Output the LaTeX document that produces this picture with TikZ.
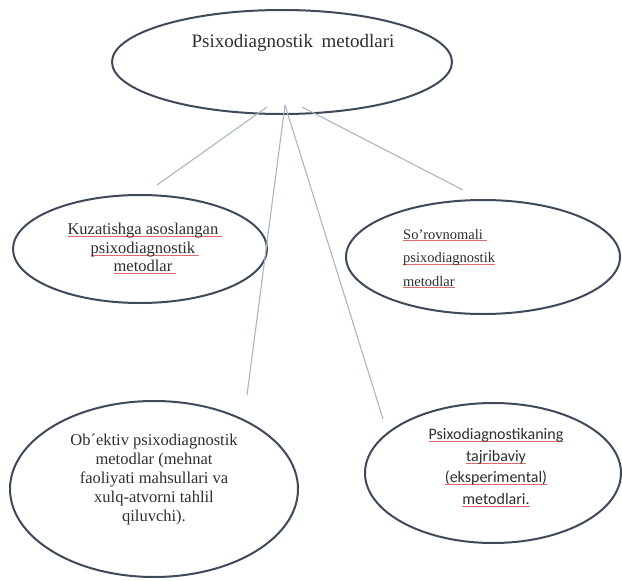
\documentclass[tikz,border=0pt]{standalone}
\usepackage{fontspec}
\setmainfont{Liberation Serif}
\newfontfamily\calibfont{Carlito}
\usetikzlibrary{shapes.geometric}
\definecolor{ellcol}{HTML}{3E4A5A}
\definecolor{conncol}{HTML}{A8B7C7}
\definecolor{txtcol}{HTML}{2E2E2E}
\definecolor{spellcol}{HTML}{E06A6A}
\newsavebox{\spellbox}
\newcommand\spellul[1]{\sbox{\spellbox}{#1}\rlap{\textcolor{spellcol}{\rule[-0.3ex]{\wd\spellbox}{0.7pt}}}\usebox{\spellbox}}
\begin{document}
\begin{tikzpicture}[x=1pt,y=-1pt,
  ell/.style={draw=ellcol, line width=2pt, ellipse, inner sep=0pt},
  conn/.style={draw=conncol, line width=1.1pt},
  lbl/.style={text=txtcol, inner sep=0pt}]
\useasboundingbox (0,0) rectangle (622,581);
% ellipses
\node[ell, minimum width=340pt, minimum height=104pt] (top) at (282,62) {};
\node[ell, minimum width=254pt, minimum height=108pt] (left) at (140,249) {};
\node[ell, minimum width=274pt, minimum height=114pt] (right) at (483,257) {};
\node[ell, minimum width=288pt, minimum height=176pt] (bl) at (154,489) {};
\node[ell, minimum width=256pt, minimum height=140pt] (br) at (493,473) {};
% texts
\node[lbl, font=\fontsize{19}{22}\selectfont] (ttop) at (293,43) {Psixodiagnostik\hspace{0.45em}metodlari};
\node[lbl, align=center, font=\fontsize{16.5}{18.5}\selectfont] (tleft) at (145,248.5)
  {\spellul{Kuzatishga asoslangan\ }\\ \spellul{psixodiagnostik\ }\\ \spellul{metodlar\ }};
\node[lbl, align=left, anchor=west, font=\fontsize{14.5}{23.5}\selectfont] (tright) at (403,258.5)
  {\spellul{So'rovnomali\ }\\ \spellul{psixodiagnostik}\\ \spellul{metodlar}};
\node[lbl, align=center, font=\fontsize{16.5}{18.8}\selectfont] (tbl) at (154,479.5)
  {Ob´ektiv psixodiagnostik\\ metodlar (mehnat\\ faoliyati mahsullari va\\ xulq-atvorni tahlil\\ qiluvchi).};
\node[lbl, align=center, font=\calibfont\fontsize{16}{21.7}\selectfont] (tbr) at (496,467.5)
  {\spellul{Psixodiagnostikaning}\\ \spellul{tajribaviy}\\ \spellul{(eksperimental)}\\ \spellul{metodlari.}};
% connectors
\coordinate (s1) at (267,107);
\coordinate (s2) at (285,105);
\coordinate (s4) at (302,107);
\coordinate (e1) at (157,185);
\coordinate (e2) at (247,395);
\coordinate (e3) at (383,419);
\coordinate (e4) at (463,190);
\draw[conn] (s1) -- (e1);
\draw[conn] (s2) -- (e2);
\draw[conn] (s2) -- (e3);
\draw[conn] (s4) -- (e4);
\end{tikzpicture}
\end{document}
